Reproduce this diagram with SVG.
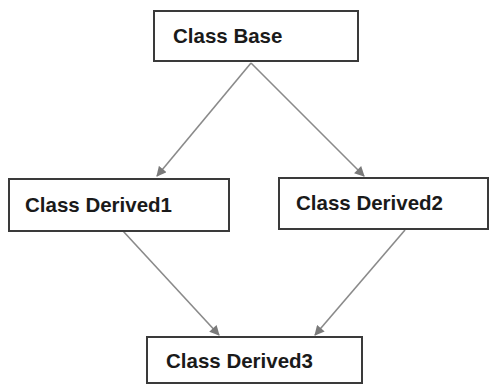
<svg xmlns="http://www.w3.org/2000/svg" width="496" height="385" viewBox="0 0 496 385">
<style>
.box{fill:#fff;stroke:#3a3a3a;stroke-width:2}
.lbl{font-family:"Liberation Sans",Arial,sans-serif;font-weight:bold;font-size:20.5px;fill:#1a1a1a}
.edge{stroke:#8a8a8a;stroke-width:1.6;fill:none;marker-end:url(#ah)}
</style>
<defs>
<marker id="ah" viewBox="0 0 10 10" refX="9" refY="5" markerWidth="11" markerHeight="10" markerUnits="userSpaceOnUse" orient="auto">
<path d="M0,0 L10,5 L0,10 z" fill="#7a7a7a"/>
</marker>
</defs>
<rect width="496" height="385" fill="#fff"/>
<g id="connectors">
<line class="edge" x1="251" y1="63" x2="157" y2="176"/>
<line class="edge" x1="251" y1="63" x2="364" y2="176"/>
<line class="edge" x1="123" y1="231" x2="219" y2="335"/>
<line class="edge" x1="405" y1="230" x2="315" y2="335"/>
</g>
<g id="base">
<rect class="box" x="154" y="11" width="204" height="50"/>
<text class="lbl" x="173" y="43">Class Base</text>
</g>
<g id="derived1">
<rect class="box" x="9" y="179" width="220" height="52"/>
<text class="lbl" x="25" y="212">Class Derived1</text>
</g>
<g id="derived2">
<rect class="box" x="279" y="178" width="209" height="51"/>
<text class="lbl" x="296" y="210">Class Derived2</text>
</g>
<g id="derived3">
<rect class="box" x="147" y="337" width="215" height="46"/>
<text class="lbl" x="166" y="368">Class Derived3</text>
</g>
</svg>
